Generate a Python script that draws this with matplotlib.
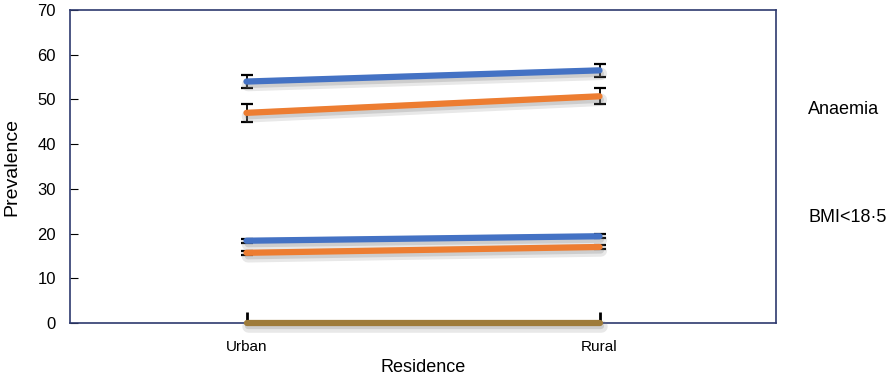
import matplotlib.pyplot as plt
import matplotlib.patheffects as pe

residence = ['Urban', 'Rural']
anaemia_blue = [54.0, 56.5]
anaemia_blue_err = [1.5, 1.5]
anaemia_orange = [47.0, 50.7]
anaemia_orange_err = [2.0, 1.8]
bmi_blue = [18.4, 19.4]
bmi_blue_err = [0.4, 0.5]
bmi_orange = [15.7, 17.0]
bmi_orange_err = [0.4, 0.5]
baseline = [0, 0]

BLUE = '#4472C4'
ORANGE = '#ED7D31'
BROWN = '#9E7B3A'
NAVY = '#2E3A6E'

plt.rcParams['font.family'] = ['Liberation Sans', 'DejaVu Sans']

fig = plt.figure(figsize=(8.92, 3.79), dpi=100)
ax = fig.add_axes([70 / 892, 1 - 323 / 379, 706 / 892, 313 / 379])

xs = [0.5, 1.5]
# soft drop shadow, a few stacked copies to fake a blur
shadow = [pe.SimpleLineShadow(offset=(1, -2.5), shadow_color='gray', alpha=0.18, linewidth=9),
          pe.SimpleLineShadow(offset=(1, -2.5), shadow_color='gray', alpha=0.25),
          pe.Normal()]

for vals, errs, col in [(anaemia_blue, anaemia_blue_err, BLUE),
                        (anaemia_orange, anaemia_orange_err, ORANGE),
                        (bmi_blue, bmi_blue_err, BLUE),
                        (bmi_orange, bmi_orange_err, ORANGE)]:
    ax.errorbar(xs, vals, yerr=errs, fmt='none', ecolor='black', elinewidth=1.3,
                capsize=4, capthick=1.6, zorder=2)
    ax.plot(xs, vals, color=col, lw=4.5, solid_capstyle='round', zorder=3,
            path_effects=shadow)

ax.plot(xs, baseline, color=BROWN, lw=4.5, solid_capstyle='round', zorder=3,
        path_effects=shadow, clip_on=False)

ax.set_xlim(0, 2)
ax.set_ylim(0, 70)
ax.set_yticks(range(0, 71, 10))
ax.set_xticks(xs)
ax.set_xticklabels(residence, fontsize=11)
ax.tick_params(axis='y', direction='in', length=6, color='black', labelsize=12, pad=10)
ax.tick_params(axis='x', direction='in', length=8, width=2, color='black', pad=12)
for s in ax.spines.values():
    s.set_color(NAVY)
    s.set_linewidth(1.2)

ax.set_xlabel('Residence', fontsize=13, labelpad=4)
ax.set_ylabel('Prevalence', fontsize=14, labelpad=12)

fig.text(808 / 892, 1 - 109 / 379, 'Anaemia', fontsize=13, va='center')
fig.text(808 / 892, 1 - 217 / 379, 'BMI<18·5', fontsize=13, va='center')

fig.savefig('out.png', dpi=100)
